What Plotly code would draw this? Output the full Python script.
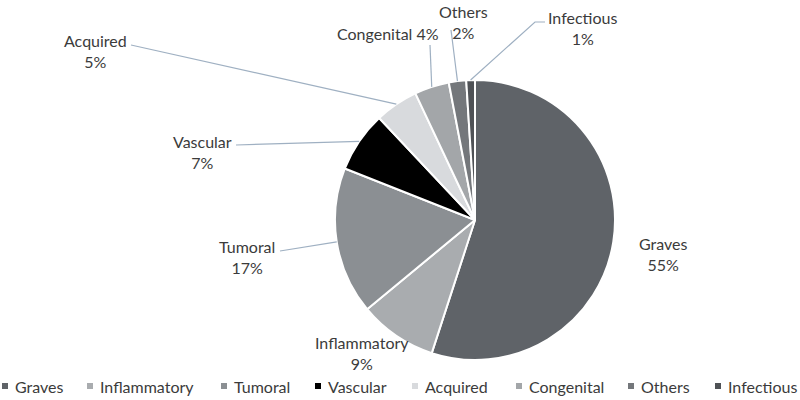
import math
import plotly.graph_objects as go

# ---- data ----
categories = ["Graves", "Inflammatory", "Tumoral", "Vascular", "Acquired", "Congenital", "Others", "Infectious"]
values = [55, 9, 17, 7, 5, 4, 2, 1]

# ---- styles / layout ----
colors = ["#5f6368", "#a9acaf", "#8b8f93", "#000000", "#d8dadd", "#a3a6a9", "#74777b", "#4f5256"]
W, H = 800, 400
CX, CY, R = 475, 220, 140          # pie centre and radius in px
FONT = "Lato, 'Open Sans', sans-serif"
TXT = "#3b3b3b"
LINE = "#9fb0c2"

# label text centres (px) and optional leader-line start / elbow points (px)
label_pos = {
    "Graves": (663, 254), "Inflammatory": (362, 353), "Tumoral": (247, 257),
    "Vascular": (203, 152), "Acquired": (95, 51), "Congenital": (388, 33),
    "Others": (463, 22), "Infectious": (582, 28),
}
leader_start = {
    "Tumoral": [(280, 251)], "Vascular": [(236, 145)], "Acquired": [(131, 45)],
    "Congenital": [(430, 45)], "Others": [(451, 30)], "Infectious": [(545, 22), (535, 22)],
}
legend_x = [2, 87, 221, 315, 412, 516, 628, 715]   # square left edges
legend_y = 386

def px(x):
    return x / W

def py(y):
    return 1 - y / H

total = sum(values)
fig = go.Figure(go.Pie(
    labels=categories, values=values, sort=False, direction="clockwise", rotation=0,
    marker=dict(colors=colors, line=dict(color="white", width=2)),
    textinfo="none", showlegend=False,
    domain=dict(x=[px(CX - R), px(CX + R)], y=[py(CY + R), py(CY - R)]),
))

annotations, shapes = [], []
cum = 0
for name, v, c in zip(categories, values, colors):
    mid = (cum + v / 2) / total
    cum += v
    th = 2 * math.pi * mid
    rx, ry = CX + R * math.sin(th), CY - R * math.cos(th)
    pct = round(100 * v / total)
    txt = f"{name} {pct}%" if name == "Congenital" else f"{name}<br>{pct}%"
    lx, ly = label_pos[name]
    annotations.append(dict(x=px(lx), y=py(ly), xref="paper", yref="paper", text=txt,
                            showarrow=False, font=dict(family=FONT, size=16, color=TXT),
                            xanchor="center", yanchor="middle", align="center"))
    if name in leader_start:
        pts = leader_start[name] + [(rx, ry)]
        path = "M " + " L ".join(f"{px(a)},{py(b)}" for a, b in pts)
        shapes.append(dict(type="path", xref="paper", yref="paper", path=path,
                           line=dict(color=LINE, width=1.2)))

# manual one-row legend
for name, c, lx in zip(categories, colors, legend_x):
    shapes.append(dict(type="rect", xref="paper", yref="paper",
                       x0=px(lx), x1=px(lx + 6), y0=py(legend_y + 3), y1=py(legend_y - 3),
                       fillcolor=c, line=dict(width=0)))
    annotations.append(dict(x=px(lx + 11), y=py(legend_y), xref="paper", yref="paper",
                            text=name, showarrow=False, xanchor="left", yanchor="middle",
                            font=dict(family=FONT, size=16, color=TXT)))

fig.update_layout(
    width=W, height=H, margin=dict(l=0, r=0, t=0, b=0),
    paper_bgcolor="white", plot_bgcolor="white",
    annotations=annotations, shapes=shapes,
)
fig.write_html("out.html")
